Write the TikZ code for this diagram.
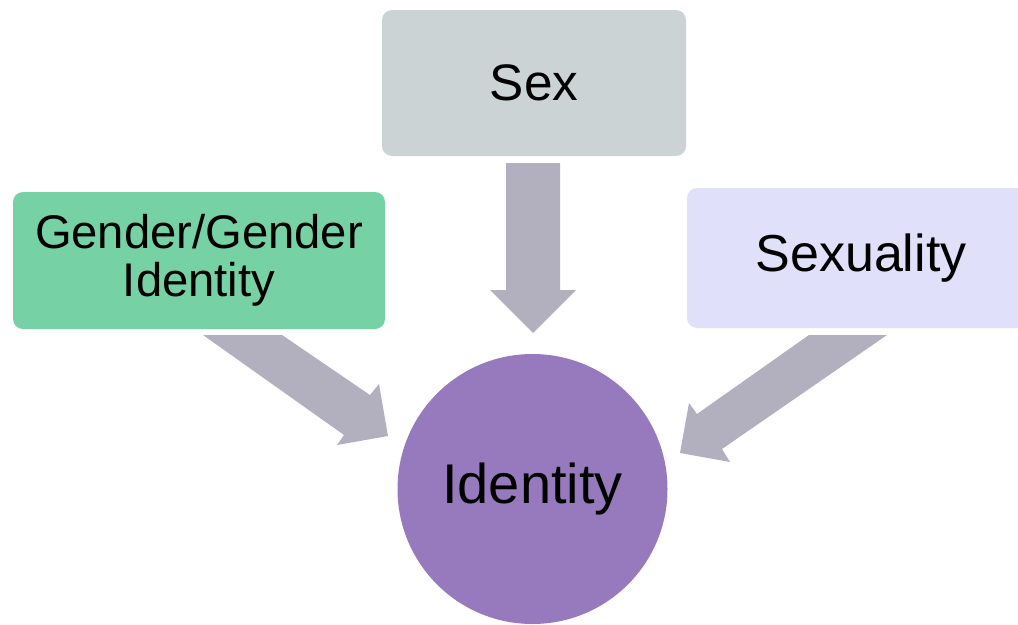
\documentclass[tikz,border=0pt]{standalone}
\usepackage{fontspec}
\setmainfont{Liberation Sans}
\usetikzlibrary{shapes.geometric}

\definecolor{sexgray}{HTML}{CBD3D5}
\definecolor{gendergreen}{HTML}{76D1A4}
\definecolor{sexlilac}{HTML}{E0E0FB}
\definecolor{idpurple}{HTML}{9779BD}
\definecolor{arrowgray}{HTML}{B2AFBF}

\tikzset{
    topicbox/.style={rectangle, rounded corners=7.5pt, inner sep=0pt, align=center, text=black},
    blockarrow/.style={fill=arrowgray, draw=none}
}

\begin{document}
\begin{tikzpicture}[x=0.75pt, y=-0.75pt]

    % Cornice
    \clip (0,0) rectangle (1018,625);
    \useasboundingbox (0,0) rectangle (1018,625);

    % Riquadri
    \node[topicbox, fill=sexgray, minimum width=228pt, minimum height=109.5pt,
          font=\fontsize{38.5}{40}\selectfont] (sex) at (534,83) {Sex};

    \node[topicbox, fill=gendergreen, minimum width=279pt, minimum height=102.75pt,
          font=\fontsize{35.4}{36}\selectfont] (gender) at (199,260.5) {Gender/Gender\\Identity};

    \node[topicbox, fill=sexlilac, minimum width=261pt, minimum height=105pt,
          font=\fontsize{39}{40}\selectfont] (sexuality) at (861,258) {Sexuality};

    % Cerchio centrale
    \node[circle, fill=idpurple, minimum size=202.5pt, inner sep=0pt,
          font=\fontsize{42}{44}\selectfont] (identity) at (532.5,489) {Identity};

    % Frecce
    \fill[blockarrow] (506,163) -- (560,163) -- (560,290) -- (576,290)
        -- (533,333) -- (490,290) -- (506,290) -- cycle;

    \fill[blockarrow] (203,335) -- (282,335) -- (370,395) -- (379,384)
        -- (388,436) -- (337,445) -- (344,435) -- cycle;

    \fill[blockarrow] (809,335) -- (887,335) -- (722,449) -- (730,462)
        -- (680,453) -- (689,403) -- (697,414) -- cycle;

\end{tikzpicture}
\end{document}
